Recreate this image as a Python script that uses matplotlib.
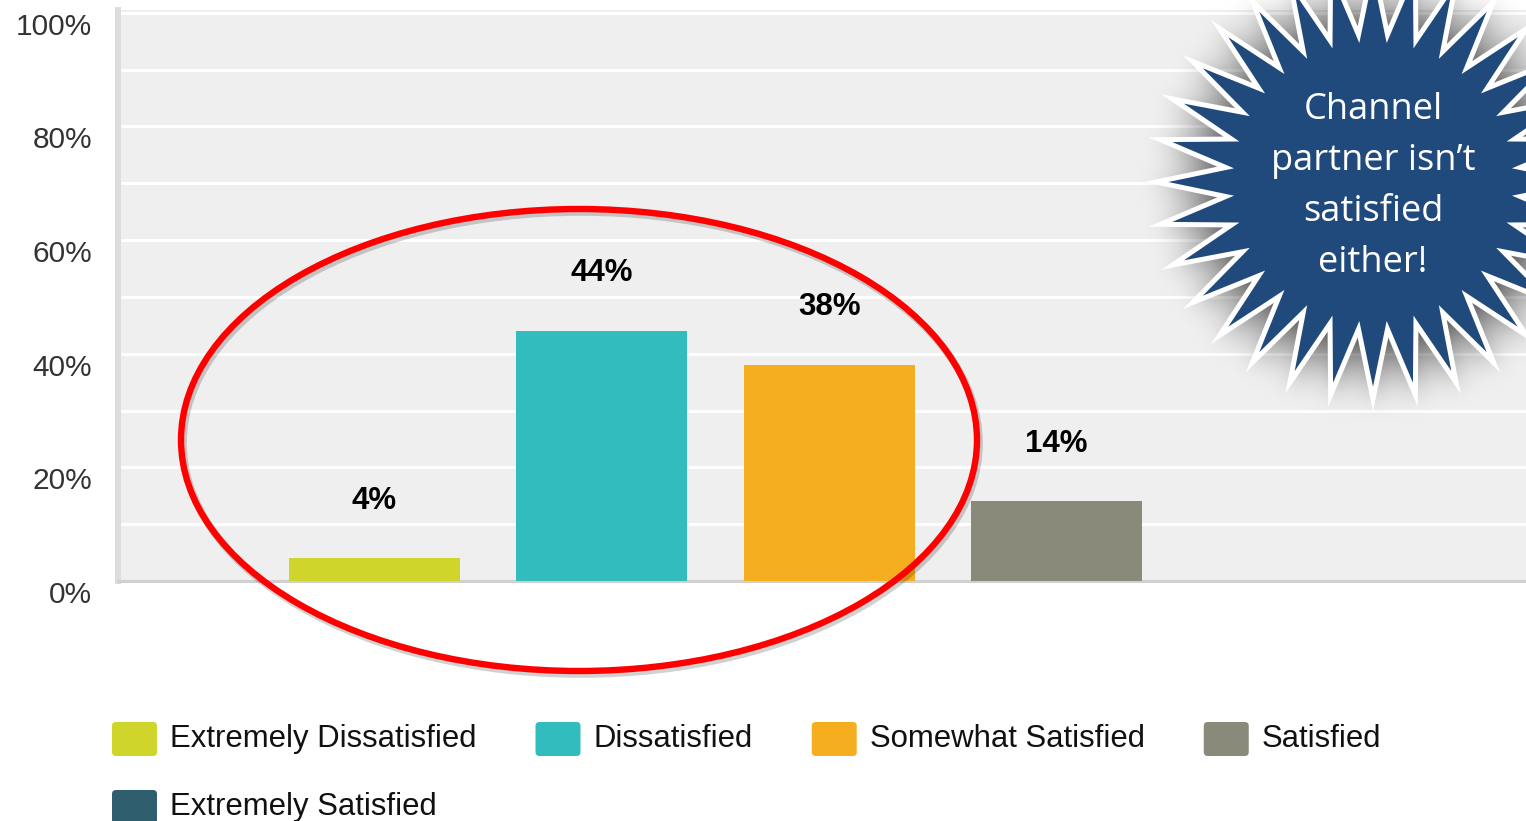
import numpy as np
import matplotlib
matplotlib.use("Agg")
import matplotlib.pyplot as plt
from matplotlib.patches import Ellipse, Polygon, FancyBboxPatch
from matplotlib.path import Path
from matplotlib.transforms import ScaledTranslation

# ---- data ----
categories = ["Extremely Dissatisfied", "Dissatisfied", "Somewhat Satisfied",
              "Satisfied", "Extremely Satisfied"]
shares = [4, 44, 38, 14, 0]
colors = ["#CFD52A", "#33BCBE", "#F5AE20", "#8A8A7A", "#2F5F6E"]
y_ticks = [0, 20, 40, 60, 80, 100]
y_tick_labels = ["0%", "20%", "40%", "60%", "80%", "100%"]
callout_lines = ["Channel", "partner isn\u2019t", "satisfied", "either!"]

W, H = 1526, 821
fig = plt.figure(figsize=(W / 100, H / 100), dpi=100)


def px_box(left, top, right, bottom):
    return [left / W, 1 - bottom / H, (right - left) / W, (bottom - top) / H]


# ---- bar chart ----
ax = fig.add_axes(px_box(118, 10, W, 581))
ax.set_facecolor("#EFEFEF")
x = np.arange(len(categories))
ax.bar(x, shares, width=0.752, color=colors, zorder=3)
ax.set_xlim(-1.1275, 5.065)
ax.set_ylim(0, 100.5)

ax.set_yticks(y_ticks)
ax.set_yticklabels(y_tick_labels, family="Liberation Sans", fontsize=21.5,
                   color="#333333")
ax.set_yticks(np.arange(10, 100, 20), minor=True)
ax.set_xticks([])
ax.tick_params(axis="y", which="both", length=0, pad=18.5)
shift = ScaledTranslation(0, -0.11, fig.dpi_scale_trans)
for lab in ax.get_yticklabels():
    lab.set_transform(lab.get_transform() + shift)

ax.grid(axis="y", which="both", color="white", lw=2.2, zorder=1)
ax.set_axisbelow(True)
for s in ("top", "right"):
    ax.spines[s].set_visible(False)
ax.spines["left"].set_color("#DDDDDD")
ax.spines["left"].set_linewidth(4.3)
ax.spines["bottom"].set_color("#D0D0D0")
ax.spines["bottom"].set_linewidth(2.2)

for xi, v in zip(x, shares):
    if v > 0:
        ax.annotate(f"{v}%", (xi, v), xytext=(0, 41.5), textcoords="offset points",
                    ha="center", va="center", fontsize=22.5, fontweight="bold",
                    family="Liberation Sans", color="black", zorder=4)

# ---- overlay in pixel coordinates ----
ov = fig.add_axes([0, 0, 1, 1], zorder=5)
ov.axis("off")
ov.patch.set_alpha(0)

# highlight ellipse with a faint offset shadow
ov.add_patch(Ellipse((581, 443), 796, 462, fill=False, edgecolor="black",
                     alpha=0.18, lw=5.5))
ov.add_patch(Ellipse((579, 440), 796, 462, fill=False, edgecolor="#FF0000", lw=4.6))

# starburst callout
cx, cy, R, r, n = 1373, 182, 217, 148, 32
ang = np.arange(2 * n) * np.pi / n
rad = np.where(np.arange(2 * n) % 2 == 0, R, r)
pts = np.column_stack([cx + rad * np.cos(ang), cy + rad * np.sin(ang)])

# soft shadow behind the star
gx0, gx1, gy0, gy1 = 1060, 1700, -120, 520
gxs = np.arange(gx0, gx1) + 0.5
gys = np.arange(gy0, gy1) + 0.5
GX, GY = np.meshgrid(gxs, gys)
mask = Path(pts + np.array([2, 4])).contains_points(
    np.column_stack([GX.ravel(), GY.ravel()])).reshape(GX.shape).astype(float)
sigma = 14
k = np.arange(-3 * sigma, 3 * sigma + 1)
kern = np.exp(-0.5 * (k / sigma) ** 2)
kern /= kern.sum()
blur = np.apply_along_axis(lambda m: np.convolve(m, kern, mode="same"), 1, mask)
blur = np.apply_along_axis(lambda m: np.convolve(m, kern, mode="same"), 0, blur)
rgba = np.zeros(blur.shape + (4,))
rgba[..., 3] = np.clip(blur * 0.7, 0, 1)
ov.imshow(rgba, extent=(gx0, gx1, gy1, gy0), interpolation="bilinear", zorder=1)
ov.set_xlim(0, W)
ov.set_ylim(H, 0)
ov.set_aspect("auto")

star = Polygon(pts, closed=True, facecolor="#214A7C", edgecolor="white", lw=3.6,
               joinstyle="miter", zorder=2)
ov.add_patch(star)
for i, line in enumerate(callout_lines):
    ov.text(cx, 119 + 51 * i, line, ha="center", va="baseline", color="white",
            fontsize=26, family="Open Sans", zorder=3)

# ---- legend (flowing rows) ----
renderer = fig.canvas.get_renderer()
lx, ly = 112, 739
for name, col in zip(categories, colors):
    t = ov.text(0, 0, name, fontsize=22.4, family="Liberation Sans", color="#111111",
                va="center", ha="left")
    tw = t.get_window_extent(renderer).width
    if lx + 58 + tw > W - 20:
        lx, ly = 112, ly + 68
    t.set_position((lx + 58, ly))
    ov.add_patch(FancyBboxPatch((lx, ly - 17), 45, 34,
                                boxstyle="round,pad=0,rounding_size=4",
                                facecolor=col, edgecolor="none"))
    lx += 58 + tw + 59

fig.savefig("out.png", dpi=100)
